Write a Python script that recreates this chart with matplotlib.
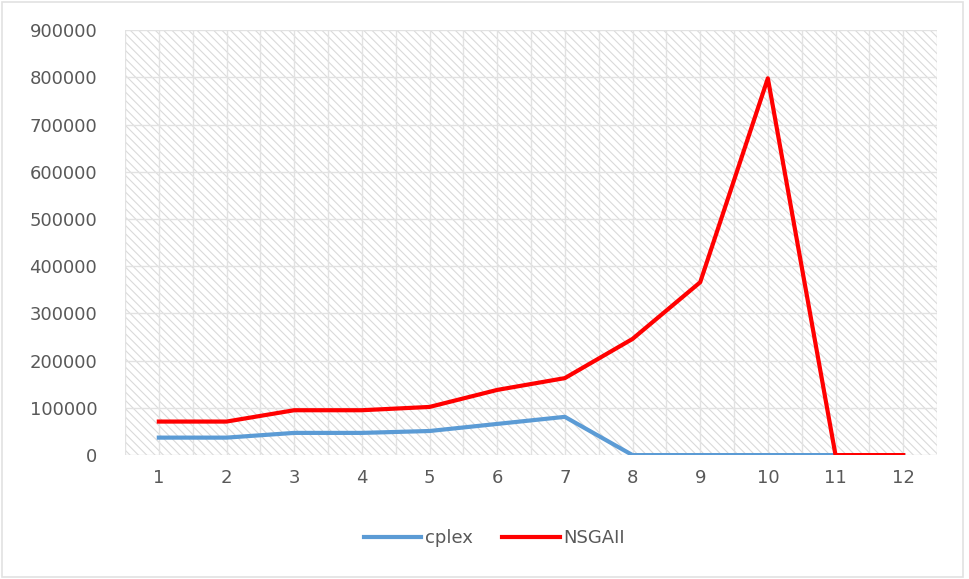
#!/usr/bin/env python

import numpy as np
import matplotlib
matplotlib.use('Agg')
import matplotlib.pyplot as plt
from matplotlib.patches import Rectangle

# Run index and objective values for the two solvers
runs = [1, 2, 3, 4, 5, 6, 7, 8, 9, 10, 11, 12]
cplex = [37000, 37000, 47000, 47000, 51000, 66000, 81000, 0, 0, 0, 0, 0]
nsgaii = [71000, 71000, 95000, 95000, 102000, 138000, 163000, 246000,
          366000, 798000, 0, 0]
y_ticks = [0, 100000, 200000, 300000, 400000, 500000, 600000, 700000,
           800000, 900000]

grid_color = '#e2e2e2'
hatch_color = '#dadada'
text_color = '#595959'

fig = plt.figure(figsize=(9.69, 5.79), dpi=100)
ax = fig.add_axes([0.129, 0.214, 0.838, 0.734])

# Hatched plot area background
plt.rcParams['hatch.color'] = hatch_color
plt.rcParams['hatch.linewidth'] = 0.8
ax.add_patch(Rectangle((0, 0), 1, 1, transform=ax.transAxes,
                       facecolor='white', edgecolor=hatch_color,
                       hatch='\\\\\\\\', linewidth=0, zorder=0))

ax.set_xlim(0.5, 12.5)
ax.set_ylim(0, 900000)
ax.set_yticks(y_ticks)
ax.set_yticklabels([str(v) for v in y_ticks])
ax.set_xticks(runs)

for v in y_ticks:
    ax.axhline(v, color=grid_color, linewidth=1.0, zorder=1)
for v in np.arange(0.5, 13, 0.5):
    ax.axvline(v, color=grid_color, linewidth=1.0, zorder=1)

ax.plot(runs, cplex, color='#5b9bd5', linewidth=3.0, label='cplex',
        solid_joinstyle='round', zorder=3)
ax.plot(runs, nsgaii, color='#ff0000', linewidth=3.0, label='NSGAII',
        solid_joinstyle='round', zorder=3)

for s in ax.spines.values():
    s.set_visible(False)
ax.tick_params(which='both', length=0, colors=text_color, labelsize=13)
ax.tick_params(axis='y', pad=20)
ax.tick_params(axis='x', pad=10)

leg = fig.legend(loc='center', bbox_to_anchor=(0.51, 0.071), ncol=2,
                 frameon=False, fontsize=13, handlelength=3.2,
                 handletextpad=0.2, columnspacing=1.6)
for t in leg.get_texts():
    t.set_color(text_color)

# Chart border
fig.add_artist(Rectangle((0.002, 0.003), 0.992, 0.993,
                         transform=fig.transFigure, fill=False,
                         edgecolor=grid_color, linewidth=1.2))

fig.savefig('out.png', dpi=100)
